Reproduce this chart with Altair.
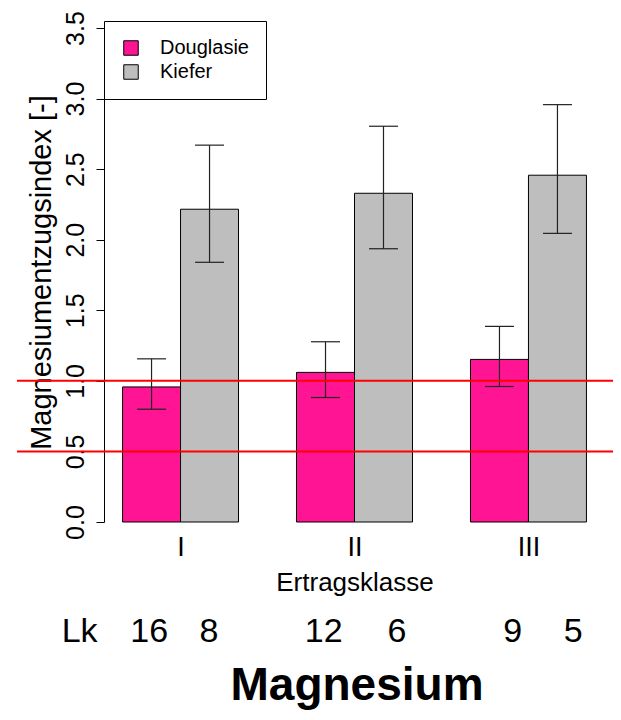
import altair as alt
import pandas as pd

# ---- data ----
classes = ["I", "II", "III"]
species = ["Douglasie", "Kiefer"]
colors = ["#FF1493", "#BEBEBE"]
mean_douglasie = [0.957, 1.060, 1.152]
mean_kiefer = [2.216, 2.329, 2.457]
low_douglasie = [0.799, 0.882, 0.960]
low_kiefer = [1.840, 1.936, 2.045]
high_douglasie = [1.156, 1.277, 1.386]
high_kiefer = [2.670, 2.804, 2.957]
lk_douglasie = [16, 12, 9]
lk_kiefer = [8, 6, 5]
ref_lines = [0.5, 1.0]
y_ticks = [0.0, 0.5, 1.0, 1.5, 2.0, 2.5, 3.0, 3.5]

# label layout (data units of the bar axis) for the "Lk" row
lk_label_pos = [0.26]
lk_count_pos = [1.46, 2.49, 4.47, 5.73, 7.73, 8.77]

FONT = "Liberation Sans"

# ---- build table (R barplot layout: width 1, space 1 between groups) ----
means = [mean_douglasie, mean_kiefer]
lows = [low_douglasie, low_kiefer]
highs = [high_douglasie, high_kiefer]
rows = []
for gi, cls in enumerate(classes):
    for si, sp in enumerate(species):
        left = 1 + 3 * gi + si
        rows.append({
            "klasse": cls, "art": sp,
            "left": left, "right": left + 1, "center": left + 0.5,
            "capL": left + 0.25, "capR": left + 0.75,
            "mean": means[si][gi], "low": lows[si][gi], "high": highs[si][gi],
            "zero": 0.0,
        })
df = pd.DataFrame(rows)

group_centers = [1 + 3 * gi + 1 for gi in range(len(classes))]
label_expr = " : ".join(
    f"datum.value == {c} ? '{n}'" for c, n in zip(group_centers[:-1], classes[:-1])
) + f" : '{classes[-1]}'"

counts = []
for gi in range(len(classes)):
    counts.append(lk_douglasie[gi])
    counts.append(lk_kiefer[gi])
cnt_df = pd.DataFrame({"pos": lk_count_pos, "txt": [str(c) for c in counts]})
lk_df = pd.DataFrame({"pos": lk_label_pos, "txt": ["Lk"]})
ref_df = pd.DataFrame({"y": ref_lines, "x1": [-0.82] * len(ref_lines), "x2": [9.6] * len(ref_lines)})

W, H = 501, 494
xscale = alt.Scale(domain=[0.68, 9.32], nice=False, zero=False)
yscale = alt.Scale(domain=[0, 3.5], nice=False, zero=True)

xaxis = alt.Axis(
    values=group_centers, labelExpr=label_expr, ticks=False, domain=False, grid=False,
    labelFontSize=27, labelFont=FONT, labelColor="black", labelBaseline="alphabetic",
    labelPadding=33, labelFlush=False, labelAngle=0,
    title="Ertragsklasse", titleFontSize=26, titleFont=FONT, titleFontWeight="normal",
    titleColor="black", titleY=68, titleBaseline="alphabetic",
)
yaxis = alt.Axis(
    values=y_ticks, format=".1f", grid=False,
    labelAngle=270, labelAlign="center", labelBaseline="alphabetic",
    labelFontSize=25, labelFont=FONT, labelColor="black", labelPadding=13,
    labelFlush=False, labelOverlap=False,
    tickSize=8, tickColor="black", domainColor="black", tickWidth=1, domainWidth=1,
    title="Magnesiumentzugsindex [-]", titleFontSize=29, titleFont=FONT,
    titleFontWeight="normal", titleColor="black", titleAngle=270,
    titleX=-54, titleY=244, titleAlign="center", titleBaseline="alphabetic",
)

base = alt.Chart(df)

bars = base.mark_bar(stroke="black", strokeWidth=1).encode(
    x=alt.X("left:Q", scale=xscale, axis=xaxis),
    x2="right:Q",
    y=alt.Y("mean:Q", scale=yscale, axis=yaxis),
    y2="zero:Q",
    color=alt.Color(
        "art:N",
        scale=alt.Scale(domain=species, range=colors),
        legend=alt.Legend(
            title=None, orient="none", legendX=0, legendY=-7,
            padding=17, strokeColor="black", fillColor="white",
            symbolType="square", symbolSize=210, symbolStrokeColor="black",
            symbolStrokeWidth=1, labelFontSize=20, labelFont=FONT,
            labelColor="black", labelOffset=19, rowPadding=4,
        ),
    ),
)

err_v = base.mark_rule(color="#222222", strokeWidth=1.2).encode(
    x=alt.X("center:Q", scale=xscale, axis=xaxis),
    y=alt.Y("low:Q", scale=yscale, axis=yaxis),
    y2="high:Q",
)
cap_lo = base.mark_rule(color="#222222", strokeWidth=1.2).encode(
    x=alt.X("capL:Q", scale=xscale, axis=xaxis),
    x2="capR:Q",
    y=alt.Y("low:Q", scale=yscale, axis=yaxis),
)
cap_hi = base.mark_rule(color="#222222", strokeWidth=1.2).encode(
    x=alt.X("capL:Q", scale=xscale, axis=xaxis),
    x2="capR:Q",
    y=alt.Y("high:Q", scale=yscale, axis=yaxis),
)

refs = alt.Chart(ref_df).mark_rule(color="#FF0000", strokeWidth=2).encode(
    x=alt.X("x1:Q", scale=xscale, axis=xaxis),
    x2="x2:Q",
    y=alt.Y("y:Q", scale=yscale, axis=yaxis),
)

cnt_text = alt.Chart(cnt_df).mark_text(
    fontSize=34, font=FONT, color="black", baseline="alphabetic", align="center"
).encode(
    x=alt.X("pos:Q", scale=xscale, axis=xaxis),
    y=alt.value(614),
    text="txt:N",
)
lk_text = alt.Chart(lk_df).mark_text(
    fontSize=34, font=FONT, color="black", baseline="alphabetic", align="center"
).encode(
    x=alt.X("pos:Q", scale=xscale, axis=xaxis),
    y=alt.value(614),
    text="txt:N",
)
title_text = alt.Chart(pd.DataFrame({"t": ["Magnesium"]})).mark_text(
    fontSize=46, font=FONT, fontWeight="bold", color="black",
    baseline="alphabetic", align="center",
).encode(
    x=alt.value(253),
    y=alt.value(672),
    text="t:N",
)

chart = alt.layer(
    bars, err_v, cap_lo, cap_hi, refs, cnt_text, lk_text, title_text
).properties(
    width=W, height=H,
    autosize=alt.AutoSizeParams(type="none"),
    padding={"left": 96, "top": 20, "right": 8, "bottom": 190},
).configure(
    font=FONT, background="white", view=alt.ViewConfig(strokeWidth=0, stroke=None)
)

chart.save("out.html", embed_options={"renderer": "svg", "actions": False})
